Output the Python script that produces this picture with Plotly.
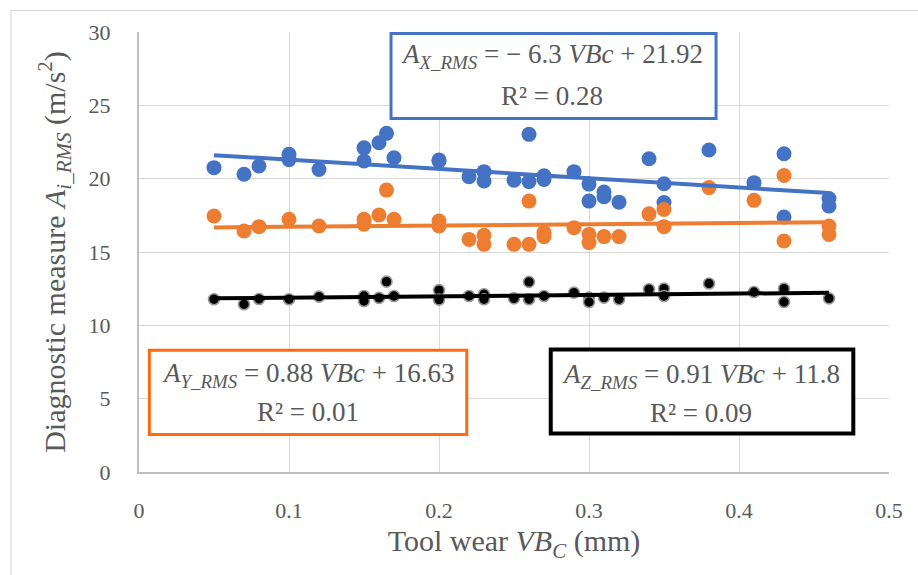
import plotly.graph_objects as go

# ---------------- data ----------------
x_X = [0.05, 0.07, 0.08, 0.10, 0.10, 0.12, 0.15, 0.15, 0.16, 0.165, 0.17, 0.20, 0.20,
       0.22, 0.23, 0.23, 0.25, 0.26, 0.26, 0.27, 0.27, 0.29, 0.30, 0.30, 0.31, 0.31,
       0.32, 0.34, 0.35, 0.35, 0.38, 0.41, 0.43, 0.43, 0.46, 0.46]
y_X = [20.75, 20.3, 20.86, 21.66, 21.3, 20.63, 22.1, 21.2, 22.45, 23.09, 21.43, 21.27, 21.2,
       20.13, 20.48, 19.84, 19.9, 23.02, 19.8, 20.2, 19.95, 20.48, 19.63, 18.47, 19.09, 18.77,
       18.4, 21.36, 19.65, 18.37, 21.95, 19.73, 21.7, 17.38, 18.64, 18.13]

x_Y = [0.05, 0.07, 0.08, 0.10, 0.12, 0.15, 0.15, 0.16, 0.165, 0.17, 0.20, 0.20,
       0.22, 0.23, 0.23, 0.25, 0.26, 0.26, 0.27, 0.27, 0.29, 0.30, 0.30, 0.31,
       0.32, 0.34, 0.35, 0.35, 0.38, 0.41, 0.43, 0.43, 0.46, 0.46]
y_Y = [17.45, 16.43, 16.73, 17.23, 16.77, 17.23, 16.89, 17.52, 19.22, 17.23, 17.11, 16.77,
       15.86, 16.14, 15.52, 15.52, 18.47, 15.52, 16.32, 16.05, 16.66, 16.2, 15.64, 16.05,
       16.05, 17.6, 17.9, 16.73, 19.39, 18.52, 20.22, 15.75, 16.77, 16.2]

x_Z = [0.05, 0.07, 0.08, 0.10, 0.12, 0.15, 0.15, 0.16, 0.165, 0.17, 0.20, 0.20,
       0.22, 0.23, 0.23, 0.25, 0.26, 0.26, 0.27, 0.29, 0.30, 0.30, 0.31, 0.32,
       0.34, 0.35, 0.35, 0.38, 0.41, 0.43, 0.43, 0.46]
y_Z = [11.78, 11.44, 11.8, 11.78, 11.96, 12.0, 11.66, 11.87, 12.98, 12.0, 12.4, 11.75,
       12.0, 12.12, 11.78, 11.84, 12.96, 11.78, 12.0, 12.23, 11.89, 11.59, 11.89, 11.78,
       12.46, 12.5, 12.0, 12.85, 12.27, 12.5, 11.59, 11.84]

# trendline coefficients (slope, intercept) as given in the chart
slopes = [-6.3, 0.88, 0.91]
intercepts = [21.92, 16.63, 11.8]
r2_values = ["0.28", "0.01", "0.09"]

x_ticks = [0, 0.1, 0.2, 0.3, 0.4, 0.5]
y_ticks = [0, 5, 10, 15, 20, 25, 30]

BLUE = "#4472C4"
ORANGE = "#ED7D31"
BLACK = "#000000"
TXT = "#595959"
FONT = "'Liberation Serif', 'DejaVu Serif', serif"

fig = go.Figure()

series = [
    (x_X, y_X, BLUE, dict(size=15, color=BLUE, line=dict(width=0))),
    (x_Y, y_Y, ORANGE, dict(size=15, color=ORANGE, line=dict(width=0))),
    (x_Z, y_Z, BLACK, dict(size=11, color=BLACK, line=dict(width=1.6, color="#9a9a9a"))),
]
for i, (xs, ys, col, mk) in enumerate(series):
    fig.add_trace(go.Scatter(x=xs, y=ys, mode="markers", marker=mk,
                             showlegend=False, hoverinfo="skip"))
for i, (xs, ys, col, mk) in enumerate(series):
    xl = [min(xs), max(xs)]
    yl = [slopes[i] * v + intercepts[i] for v in xl]
    fig.add_trace(go.Scatter(x=xl, y=yl, mode="lines",
                             line=dict(color=col, width=4),
                             showlegend=False, hoverinfo="skip"))

# equation boxes
boxes = [
    dict(x0=0.168, x1=0.3847, y0=24.1, y1=29.9, color="#4472C4", w=3,
         cx=0.2755, l1=28.33, l2=25.67, sub="X_RMS"),
    dict(x0=0.0069, x1=0.2185, y0=2.56, y1=8.30, color="#FF6A0D", w=3,
         cx=0.1127, l1=6.62, l2=4.06, sub="Y_RMS"),
    dict(x0=0.2745, x1=0.4762, y0=2.62, y1=8.35, color="#000000", w=4,
         cx=0.3745, l1=6.53, l2=4.04, sub="Z_RMS"),
]
annotations = []
shapes = []
for i, b in enumerate(boxes):
    shapes.append(dict(type="rect", xref="x", yref="y", x0=b["x0"], x1=b["x1"],
                       y0=b["y0"], y1=b["y1"], line=dict(color=b["color"], width=b["w"]),
                       fillcolor="white", layer="above"))
    s = slopes[i]
    stxt = ("− " + f"{abs(s):g}") if s < 0 else f"{s:g}"
    line1 = (f"<i>A</i><sub><i>{b['sub']}</i></sub> = {stxt} <i>VBc</i> + "
             f"{intercepts[i]:g}")
    line2 = f"R² = {r2_values[i]}"
    annotations.append(dict(x=b["cx"], y=b["l1"], xref="x", yref="y", text=line1,
                            showarrow=False, font=dict(family=FONT, size=27, color=TXT),
                            xanchor="center", yanchor="middle"))
    annotations.append(dict(x=b["cx"], y=b["l2"], xref="x", yref="y", text=line2,
                            showarrow=False, font=dict(family=FONT, size=27, color=TXT),
                            xanchor="center", yanchor="middle"))

# outer chart border
shapes.append(dict(type="rect", xref="paper", yref="paper", x0=-0.1707, x1=1.2,
                   y0=-0.4, y1=1.0489, line=dict(color="#d9d9d9", width=1.2),
                   layer="below"))

fig.update_layout(
    width=918, height=575,
    margin=dict(l=139, r=29, t=32, b=103, pad=0),
    paper_bgcolor="white", plot_bgcolor="white",
    font=dict(family=FONT, color=TXT, size=22),
    annotations=annotations, shapes=shapes,
    xaxis=dict(range=[0, 0.5], tickvals=x_ticks, ticktext=[f"{v:g}" for v in x_ticks],
               showgrid=True, gridcolor="#d9d9d9", gridwidth=1.3,
               showline=True, linecolor="#bfbfbf", linewidth=2,
               zeroline=False, ticks="outside", ticklen=18, tickcolor="rgba(0,0,0,0)",
               tickfont=dict(family=FONT, size=22, color=TXT),
               title=dict(text="Tool wear <i>VB</i><sub><i>C</i></sub> (mm)",
                          font=dict(family=FONT, size=30, color=TXT), standoff=8)),
    yaxis=dict(range=[0, 30], tickvals=y_ticks,
               showgrid=True, gridcolor="#d9d9d9", gridwidth=1.3,
               showline=True, linecolor="#bfbfbf", linewidth=2,
               zeroline=False, ticks="outside", ticklen=22, tickcolor="rgba(0,0,0,0)",
               tickfont=dict(family=FONT, size=22, color=TXT),
               title=dict(text="Diagnostic measure <i>A</i><sub><i>i_RMS</i></sub> (m/s<sup>2</sup>)",
                          font=dict(family=FONT, size=30, color=TXT), standoff=14)),
)

fig.write_html("out.html", config={"displayModeBar": False})

# remove default page margin so the figure sits at the window origin
with open("out.html", "r", encoding="utf-8") as f:
    html = f.read()
html = html.replace("<head>", "<head><style>html,body{margin:0;padding:0;overflow:hidden;}</style>", 1)
with open("out.html", "w", encoding="utf-8") as f:
    f.write(html)
